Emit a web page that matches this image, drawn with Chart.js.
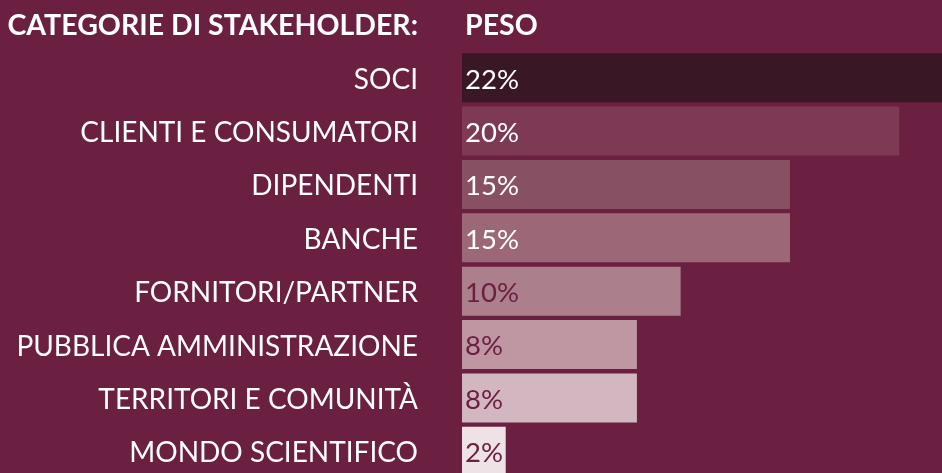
<!DOCTYPE html>
<html lang="it">
<head>
    <meta charset="UTF-8">
    <title>Categorie di stakeholder</title>
    <script src="https://cdn.jsdelivr.net/npm/chart.js"></script>
    <style>
        html, body {
            margin: 0;
            padding: 0;
            background: #6b1f41;
            overflow: hidden;
            font-family: 'Lato', sans-serif;
        }

        .wrap {
            position: relative;
            width: 944px;
            height: 478px;
        }

        .head {
            position: absolute;
            top: 7px;
            color: #ffffff;
            font-weight: bold;
            font-size: 28.5px;
            line-height: 34px;
            white-space: nowrap;
        }

        #headCat {
            left: 0;
            width: 418px;
            text-align: right;
        }

        #headPeso {
            left: 465px;
        }

        #chart {
            position: absolute;
            left: 0;
            top: 0;
        }
    </style>
</head>
<body>
    <div class="wrap">
        <canvas id="chart"></canvas>
        <div class="head" id="headCat">CATEGORIE DI STAKEHOLDER:</div>
        <div class="head" id="headPeso">PESO</div>
    </div>

    <script>
        const categories = ['SOCI', 'CLIENTI E CONSUMATORI', 'DIPENDENTI', 'BANCHE',
            'FORNITORI/PARTNER', 'PUBBLICA AMMINISTRAZIONE', 'TERRITORI E COMUNITÀ', 'MONDO SCIENTIFICO'];
        const weights = [22, 20, 15, 15, 10, 8, 8, 2];
        const barColors = ['#3a1724', '#7e3a55', '#885063', '#9c6878',
            '#ab808c', '#be97a3', '#d3b7c0', '#eee2e6'];
        const valueColors = ['#ffffff', '#ffffff', '#ffffff', '#ffffff',
            '#6b1f41', '#6b1f41', '#6b1f41', '#6b1f41'];

        // percent text drawn just inside the start of each bar
        const valueLabels = {
            id: 'valueLabels',
            afterDatasetsDraw(chart) {
                const ctx = chart.ctx;
                const meta = chart.getDatasetMeta(0);
                ctx.save();
                ctx.font = '27.5px Lato';
                ctx.textAlign = 'left';
                ctx.textBaseline = 'middle';
                meta.data.forEach((bar, i) => {
                    ctx.fillStyle = valueColors[i];
                    ctx.fillText(weights[i] + '%', bar.base + 3, bar.y + 2);
                });
                ctx.restore();
            }
        };

        function draw() {
            const canvas = document.getElementById('chart');
            canvas.width = 944;
            canvas.height = 478;
            new Chart(canvas.getContext('2d'), {
                type: 'bar',
                data: {
                    labels: categories,
                    datasets: [{
                        data: weights,
                        backgroundColor: barColors,
                        borderWidth: 0,
                        barPercentage: 1,
                        categoryPercentage: 0.918
                    }]
                },
                options: {
                    indexAxis: 'y',
                    responsive: false,
                    animation: false,
                    layout: { padding: { top: 51, right: 1, bottom: 0, left: 0 } },
                    plugins: {
                        legend: { display: false },
                        tooltip: { enabled: false }
                    },
                    scales: {
                        x: {
                            min: 0,
                            max: 22,
                            display: false
                        },
                        y: {
                            grid: { display: false },
                            border: { display: false },
                            ticks: {
                                color: '#ffffff',
                                padding: 36,
                                labelOffset: 2,
                                font: { family: 'Lato', size: 28 }
                            },
                            afterFit(scale) {
                                scale.width = 462;
                                scale.paddingTop = 0;
                                scale.paddingBottom = 0;
                            }
                        }
                    }
                },
                plugins: [valueLabels]
            });
        }

        if (document.fonts && document.fonts.load) {
            Promise.all([
                document.fonts.load('28px Lato'),
                document.fonts.load('bold 28px Lato')
            ]).then(draw, draw);
        } else {
            draw();
        }
    </script>
</body>
</html>
